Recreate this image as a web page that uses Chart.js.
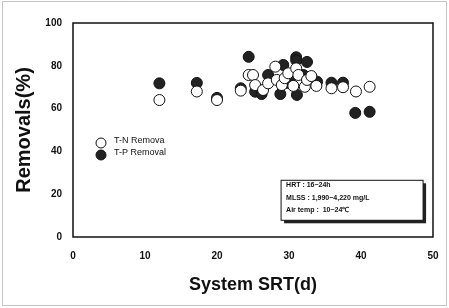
<!DOCTYPE html>
<html>
<head>
<meta charset="utf-8">
<script src="https://cdn.jsdelivr.net/npm/chart.js@4.4.0/dist/chart.umd.min.js"></script>
<style>
  html, body { margin: 0; padding: 0; background: #fff; }
  #wrap { width: 449px; height: 308px; position: relative; }
</style>
</head>
<body>
<div id="wrap"><canvas id="srtChart" width="449" height="308"></canvas></div>
<script>
// valores
const tnSrt = [12, 17.2, 20, 23.3, 24.4, 25.0, 25.3, 26.4, 27.1, 28.1, 28.3, 29.0, 29.4, 29.9, 30.6, 31.0, 31.3, 32.2, 32.5, 33.1, 33.8, 35.9, 37.5, 39.3, 41.2];
const tnRemoval = [64, 68, 64, 68.4, 75.7, 75.7, 71, 68.7, 71.8, 79.6, 73.4, 71, 74.2, 76.5, 70.6, 78.8, 75.7, 70.2, 73.4, 75.2, 70.6, 69.5, 70, 68, 70.2];
const tpSrt = [12, 17.2, 20, 23.3, 24.4, 25.3, 26.2, 27.1, 28.8, 29.2, 29.6, 30.1, 31.1, 31.0, 31.0, 32.5, 32.0, 33.9, 35.9, 37.5, 39.2, 41.2];
const tpRemoval = [71.8, 72, 65, 69.5, 84.2, 67.9, 66.8, 75.7, 66.8, 80.4, 72, 73.4, 66.4, 84, 82.6, 81.8, 75.7, 72.6, 72.1, 72.1, 58, 58.5];
const xTicks = [0, 10, 20, 30, 40, 50];
const yTicks = [0, 20, 40, 60, 80, 100];
const seriesNames = ['T-N Remova', 'T-P Removal'];
const noteLines = ['HRT : 16~24h', 'MLSS : 1,990~4,220 mg/L', 'Air temp :  10~24\u2103'];

const fonte = "'Liberation Sans', Arial, sans-serif";

function pares(xs, ys) {
  return xs.map((x, i) => ({ x: x, y: ys[i] }));
}

// moldura, legenda e caixa de notas
const extras = {
  id: 'extras',
  beforeDraw(chart) {
    const ctx = chart.ctx;
    ctx.save();
    ctx.strokeStyle = '#888';
    ctx.lineWidth = 1;
    ctx.setLineDash([1, 1]);
    ctx.strokeRect(2.5, 1.5, 444, 304);
    ctx.restore();
  },
  afterDraw(chart) {
    const ctx = chart.ctx;
    const a = chart.chartArea;
    const xs = chart.scales.x;
    const ys = chart.scales.y;
    ctx.save();
    ctx.strokeStyle = '#111';
    ctx.lineWidth = 1.5;
    ctx.strokeRect(a.left, a.top, a.right - a.left, a.bottom - a.top);

    // legenda
    const lx = 101, ly = [143, 155];
    ctx.font = '9px ' + fonte;
    ctx.textBaseline = 'middle';
    ctx.textAlign = 'left';
    ly.forEach((y, i) => {
      ctx.beginPath();
      ctx.arc(lx, y, 5, 0, Math.PI * 2);
      ctx.fillStyle = i === 0 ? '#fff' : '#222';
      ctx.fill();
      ctx.lineWidth = 1;
      ctx.strokeStyle = '#111';
      ctx.stroke();
      ctx.fillStyle = '#111';
      ctx.fillText(seriesNames[i], lx + 13, y - 2);
    });

    // caixa de notas
    const bx = xs.getPixelForValue(28.9), by = ys.getPixelForValue(26.5);
    const bw = 142, bh = 40;
    ctx.fillStyle = '#222';
    ctx.fillRect(bx + 3, by + 3, bw, bh);
    ctx.fillStyle = '#fff';
    ctx.fillRect(bx, by, bw, bh);
    ctx.lineWidth = 1;
    ctx.strokeStyle = '#111';
    ctx.strokeRect(bx, by, bw, bh);
    ctx.fillStyle = '#111';
    ctx.font = 'bold 7px ' + fonte;
    noteLines.forEach((t, i) => {
      ctx.fillText(t, bx + 5, by + 5 + i * 12.5);
    });
    ctx.restore();
  }
};

const ctx = document.getElementById('srtChart').getContext('2d');
new Chart(ctx, {
  type: 'scatter',
  data: {
    datasets: [
      {
        label: seriesNames[0],
        data: pares(tnSrt, tnRemoval),
        backgroundColor: '#fff',
        borderColor: '#111',
        borderWidth: 1,
        pointRadius: 5.5
      },
      {
        label: seriesNames[1],
        data: pares(tpSrt, tpRemoval),
        backgroundColor: '#222',
        borderColor: '#111',
        borderWidth: 1,
        pointRadius: 5.5
      }
    ]
  },
  options: {
    responsive: false,
    animation: false,
    layout: { padding: { top: 23, right: 16, bottom: 8, left: 8 } },
    plugins: {
      legend: { display: false },
      tooltip: { enabled: false }
    },
    scales: {
      x: {
        type: 'linear',
        min: 0,
        max: 50,
        afterBuildTicks: (s) => { s.ticks = xTicks.map(v => ({ value: v })); },
        afterFit: (s) => { s.height = 63; },
        grid: { display: false },
        border: { display: false },
        ticks: { color: '#111', font: { family: fonte, size: 10, weight: 'bold' }, padding: 5 },
        title: {
          display: true,
          text: 'System SRT(d)',
          color: '#111',
          font: { family: fonte, size: 18, weight: 'bold' },
          padding: { top: 10 }
        }
      },
      y: {
        min: 0,
        max: 100,
        afterBuildTicks: (s) => { s.ticks = yTicks.map(v => ({ value: v })); },
        afterFit: (s) => { s.width = 65; },
        grid: { display: false },
        border: { display: false },
        ticks: { color: '#111', font: { family: fonte, size: 10, weight: 'bold' }, padding: 3 },
        title: {
          display: true,
          text: 'Removals(%)',
          color: '#111',
          font: { family: fonte, size: 20, weight: 'bold' },
          padding: { bottom: 2 }
        }
      }
    }
  },
  plugins: [extras]
});
</script>
</body>
</html>
